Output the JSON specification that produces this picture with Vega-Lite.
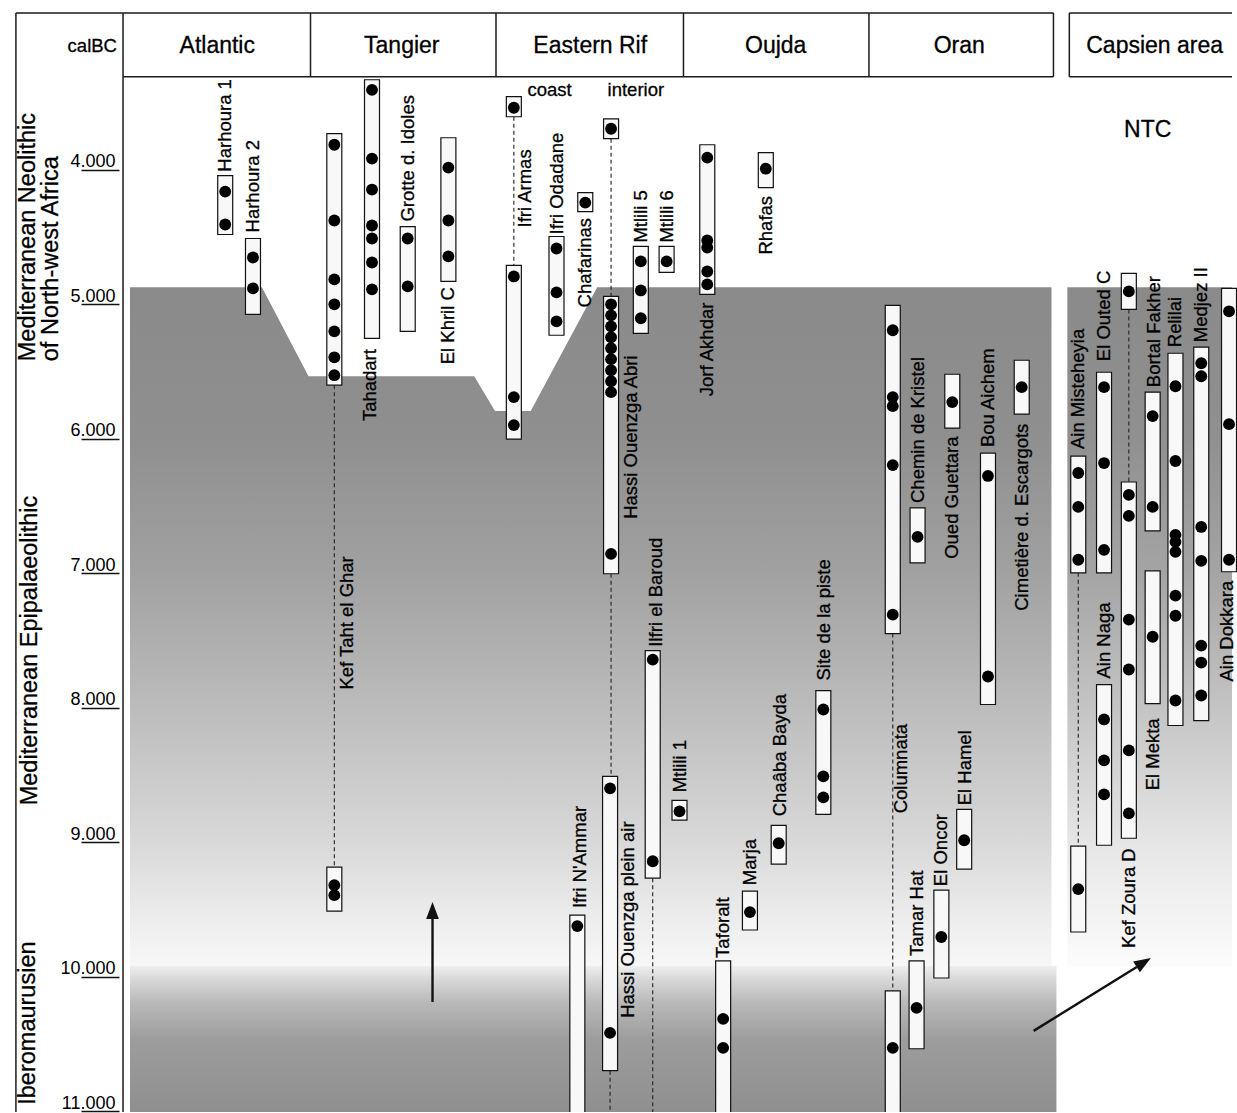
{
"$schema": "https://vega.github.io/schema/vega-lite/v6.json",
"width": 1237, "height": 1113,
"autosize": {"type": "fit", "contains": "padding"},
"padding": 0,
"background": "#ffffff",
"config": {"view": {"stroke": null}, "text": {"font": "Liberation Sans", "color": "#111111"}},
"datasets": {
"bgUpper": [
{"pos":126,"calBC":4875,"calBC2":9920},{"pos":259,"calBC":4875,"calBC2":9920},{"pos":306,"calBC":5536,"calBC2":9920},{"pos":473,"calBC":5536,"calBC2":9920},{"pos":494,"calBC":5795,"calBC2":9920},{"pos":530,"calBC":5795,"calBC2":9920},{"pos":597,"calBC":4875,"calBC2":9920},{"pos":1055,"calBC":4875,"calBC2":9920}],
"bgCaps": [{"pos":1071,"calBC":4875,"calBC2":9920},{"pos":1237,"calBC":4875,"calBC2":9920}],
"bgLower": [{"pos":126,"calBC":9920,"calBC2":11005},{"pos":1060,"calBC":9920,"calBC2":11005}],
"frame": [
{"pos":11,"pos2":1057,"calBC":2835,"calBC2":2835},
{"pos":1073,"pos2":1237,"calBC":2835,"calBC2":2835},
{"pos":119,"pos2":1057,"calBC":3310,"calBC2":3310},
{"pos":1073,"pos2":1237,"calBC":3310,"calBC2":3310},
{"pos":11,"pos2":11,"calBC":2835,"calBC2":11005},
{"pos":119,"pos2":119,"calBC":2835,"calBC2":11005},
{"pos":308,"pos2":308,"calBC":2835,"calBC2":3310},
{"pos":495,"pos2":495,"calBC":2835,"calBC2":3310},
{"pos":684,"pos2":684,"calBC":2835,"calBC2":3310},
{"pos":871,"pos2":871,"calBC":2835,"calBC2":3310},
{"pos":1057,"pos2":1057,"calBC":2835,"calBC2":3310},
{"pos":1073,"pos2":1073,"calBC":2835,"calBC2":3310}],
"dashes": [
{"pos":332,"calBC":5602,"calBC2":9185},
{"pos":513,"calBC":3607,"calBC2":4712},
{"pos":611,"calBC":3770,"calBC2":4942},
{"pos":611,"calBC":7004,"calBC2":8510},
{"pos":610,"calBC":10698,"calBC2":11100},
{"pos":653,"calBC":9267,"calBC2":11100},
{"pos":895,"calBC":7449,"calBC2":10105},
{"pos":1082,"calBC":6997,"calBC2":9029},
{"pos":1133,"calBC":5039,"calBC2":6322}],
"boxes": [
{"site":"Harhoura 1","pos":222,"calBC":4045,"calBC2":4482},
{"site":"Harhoura 2","pos":250,"calBC":4512,"calBC2":5076},
{"site":"Kef Taht el Ghar","pos":332,"calBC":3733,"calBC2":5602},
{"site":"Kef Taht el Ghar","pos":332,"calBC":9185,"calBC2":9512},
{"site":"Tahadart","pos":370,"calBC":3332,"calBC2":5254},
{"site":"Grotte d. Idoles","pos":406,"calBC":4423,"calBC2":5202},
{"site":"El Khril C","pos":447,"calBC":3763,"calBC2":4831},
{"site":"Ifri Armas","pos":513,"calBC":3458,"calBC2":3607},
{"site":"Ifri Armas","pos":513,"calBC":4712,"calBC2":6003},
{"site":"Ifri Odadane","pos":556,"calBC":4497,"calBC2":5231},
{"site":"Chafarinas","pos":585,"calBC":4171,"calBC2":4312},
{"site":"Hassi Ouenzga Abri","pos":611,"calBC":3622,"calBC2":3770},
{"site":"Hassi Ouenzga Abri","pos":611,"calBC":4942,"calBC2":7004},
{"site":"Hassi Ouenzga plein air","pos":610,"calBC":8510,"calBC2":10698},
{"site":"Ifri N'Ammar","pos":577,"calBC":9541,"calBC2":11100},
{"site":"Ilfri el Baroud","pos":653,"calBC":7575,"calBC2":9267},
{"site":"Mtlili 5","pos":641,"calBC":4571,"calBC2":5217},
{"site":"Mtlili 6","pos":667,"calBC":4571,"calBC2":4764},
{"site":"Mtlili 1","pos":680,"calBC":8688,"calBC2":8836},
{"site":"Jorf Akhdar","pos":708,"calBC":3815,"calBC2":4927},
{"site":"Rhafas","pos":767,"calBC":3874,"calBC2":4134},
{"site":"Columnata","pos":895,"calBC":5009,"calBC2":7449},
{"site":"Columnata","pos":895,"calBC":10105,"calBC2":11100},
{"site":"Chemin de Kristel","pos":920,"calBC":6515,"calBC2":6923},
{"site":"Oued Guettara","pos":955,"calBC":5521,"calBC2":5921},
{"site":"Bou Aichem","pos":991,"calBC":6107,"calBC2":7976},
{"site":"Cimetière d. Escargots","pos":1025,"calBC":5417,"calBC2":5817},
{"site":"Chaâba Bayda","pos":780,"calBC":8874,"calBC2":9163},
{"site":"Site de la piste","pos":825,"calBC":7872,"calBC2":8792},
{"site":"Marja","pos":751,"calBC":9363,"calBC2":9652},
{"site":"Taforalt","pos":724,"calBC":9882,"calBC2":11100},
{"site":"Tamar Hat","pos":919,"calBC":9882,"calBC2":10535},
{"site":"El Oncor","pos":944,"calBC":9356,"calBC2":10009},
{"site":"El Hamel","pos":967,"calBC":8755,"calBC2":9200},
{"site":"Ain Misteheyia","pos":1082,"calBC":6129,"calBC2":6997},
{"site":"Ain Misteheyia","pos":1082,"calBC":9029,"calBC2":9667},
{"site":"El Outed C","pos":1108,"calBC":5506,"calBC2":6997},
{"site":"Kef Zoura D","pos":1133,"calBC":4771,"calBC2":5039},
{"site":"Kef Zoura D","pos":1133,"calBC":6322,"calBC2":8970},
{"site":"Bortal Fakher","pos":1157,"calBC":5654,"calBC2":6685},
{"site":"El Mekta","pos":1157,"calBC":6982,"calBC2":7969},
{"site":"Relilai","pos":1180,"calBC":5365,"calBC2":8132},
{"site":"Medjez II","pos":1206,"calBC":5320,"calBC2":8095},
{"site":"Ain Dokkara","pos":1234,"calBC":4883,"calBC2":6989},
{"site":"Ain Naga","pos":1108,"calBC":7828,"calBC2":9022}],
"dots": [
{"pos":222,"calBC":4163},{"pos":222,"calBC":4408},
{"pos":250,"calBC":4653},{"pos":250,"calBC":4883},
{"pos":332,"calBC":3815},{"pos":332,"calBC":4378},{"pos":332,"calBC":4816},{"pos":332,"calBC":5001},{"pos":332,"calBC":5202},{"pos":332,"calBC":5395},{"pos":332,"calBC":5528},{"pos":332,"calBC":9319},{"pos":332,"calBC":9393},
{"pos":370,"calBC":3407},{"pos":370,"calBC":3918},{"pos":370,"calBC":4148},{"pos":370,"calBC":4415},{"pos":370,"calBC":4512},{"pos":370,"calBC":4690},{"pos":370,"calBC":4890},
{"pos":406,"calBC":4512},{"pos":406,"calBC":4868},
{"pos":447,"calBC":3985},{"pos":447,"calBC":4378},{"pos":447,"calBC":4645},
{"pos":513,"calBC":3540},{"pos":513,"calBC":4794},{"pos":513,"calBC":5691},{"pos":513,"calBC":5899},
{"pos":556,"calBC":4586},{"pos":556,"calBC":4912},{"pos":556,"calBC":5128},
{"pos":585,"calBC":4245},
{"pos":611,"calBC":3696},{"pos":611,"calBC":5001},{"pos":611,"calBC":5083},{"pos":611,"calBC":5165},{"pos":611,"calBC":5246},{"pos":611,"calBC":5328},{"pos":611,"calBC":5409},{"pos":611,"calBC":5491},{"pos":611,"calBC":5573},{"pos":611,"calBC":5654},{"pos":611,"calBC":6856},
{"pos":610,"calBC":8599},{"pos":610,"calBC":10417},
{"pos":577,"calBC":9623},
{"pos":653,"calBC":7642},{"pos":653,"calBC":9141},
{"pos":641,"calBC":4682},{"pos":641,"calBC":4898},{"pos":641,"calBC":5105},
{"pos":667,"calBC":4682},
{"pos":680,"calBC":8770},
{"pos":708,"calBC":3911},{"pos":708,"calBC":4527},{"pos":708,"calBC":4579},{"pos":708,"calBC":4757},{"pos":708,"calBC":4853},
{"pos":767,"calBC":3993},
{"pos":895,"calBC":5194},{"pos":895,"calBC":5691},{"pos":895,"calBC":5758},{"pos":895,"calBC":6196},{"pos":895,"calBC":7308},{"pos":895,"calBC":10528},
{"pos":920,"calBC":6730},
{"pos":955,"calBC":5728},
{"pos":991,"calBC":6277},{"pos":991,"calBC":7768},
{"pos":1025,"calBC":5617},
{"pos":780,"calBC":9007},
{"pos":825,"calBC":8013},{"pos":825,"calBC":8510},{"pos":825,"calBC":8666},
{"pos":751,"calBC":9519},
{"pos":724,"calBC":10313},{"pos":724,"calBC":10528},
{"pos":919,"calBC":10231},
{"pos":944,"calBC":9704},
{"pos":967,"calBC":8985},
{"pos":1082,"calBC":6255},{"pos":1082,"calBC":6507},{"pos":1082,"calBC":6900},{"pos":1082,"calBC":9348},
{"pos":1108,"calBC":5617},{"pos":1108,"calBC":6181},{"pos":1108,"calBC":6826},
{"pos":1133,"calBC":4905},{"pos":1133,"calBC":6418},{"pos":1133,"calBC":6574},{"pos":1133,"calBC":7345},{"pos":1133,"calBC":7716},{"pos":1133,"calBC":8317},{"pos":1133,"calBC":8785},
{"pos":1157,"calBC":5832},{"pos":1157,"calBC":6507},
{"pos":1157,"calBC":7472},
{"pos":1180,"calBC":5610},{"pos":1180,"calBC":6166},{"pos":1180,"calBC":6715},{"pos":1180,"calBC":6767},{"pos":1180,"calBC":6841},{"pos":1180,"calBC":7167},{"pos":1180,"calBC":7316},{"pos":1180,"calBC":7946},
{"pos":1206,"calBC":5439},{"pos":1206,"calBC":5536},{"pos":1206,"calBC":6656},{"pos":1206,"calBC":6908},{"pos":1206,"calBC":7538},{"pos":1206,"calBC":7664},{"pos":1206,"calBC":7909},
{"pos":1234,"calBC":5053},{"pos":1234,"calBC":5892},{"pos":1234,"calBC":6900},
{"pos":1108,"calBC":8087},{"pos":1108,"calBC":8391},{"pos":1108,"calBC":8644}],
"labels": [
{"label":"Harhoura 1","pos":222,"calBC":4015},
{"label":"Harhoura 2","pos":250,"calBC":4467},
{"label":"Kef Taht el Ghar","pos":345,"calBC":7865},
{"label":"Tahadart","pos":368,"calBC":5869},
{"label":"Grotte d. Idoles","pos":406,"calBC":4386},
{"label":"El Khril C","pos":447,"calBC":5447},
{"label":"Ifri Armas","pos":524,"calBC":4430},
{"label":"Ifri Odadane","pos":556,"calBC":4482},
{"label":"Chafarinas","pos":585,"calBC":5024},
{"label":"Hassi Ouenzga Abri","pos":631,"calBC":6596},
{"label":"Hassi Ouenzga plein air","pos":628,"calBC":10305},
{"label":"Ifri N'Ammar","pos":580,"calBC":9489},
{"label":"Ilfri el Baroud","pos":656,"calBC":7546},
{"label":"Mtlili 5","pos":641,"calBC":4542},
{"label":"Mtlili 6","pos":667,"calBC":4542},
{"label":"Mtlili 1","pos":680,"calBC":8629},
{"label":"Jorf Akhdar","pos":708,"calBC":5684},
{"label":"Rhafas","pos":767,"calBC":4631},
{"label":"Columnata","pos":903,"calBC":8785},
{"label":"Chemin de Kristel","pos":920,"calBC":6478},
{"label":"Oued Guettara","pos":955,"calBC":6893},
{"label":"Bou Aichem","pos":991,"calBC":6062},
{"label":"Cimetière d. Escargots","pos":1025,"calBC":7279},
{"label":"Chaâba Bayda","pos":781,"calBC":8807},
{"label":"Site de la piste","pos":826,"calBC":7798},
{"label":"Marja","pos":751,"calBC":9319},
{"label":"Taforalt","pos":724,"calBC":9860},
{"label":"Tamar Hat","pos":919,"calBC":9845},
{"label":"El Oncor","pos":944,"calBC":9326},
{"label":"El Hamel","pos":968,"calBC":8725},
{"label":"Ain Misteheyia","pos":1082,"calBC":6077},
{"label":"El Outed C","pos":1108,"calBC":5424},
{"label":"Kef Zoura D","pos":1133,"calBC":9786},
{"label":"Bortal Fakher","pos":1158,"calBC":5617},
{"label":"El Mekta","pos":1157,"calBC":8614},
{"label":"Relilai","pos":1180,"calBC":5320},
{"label":"Medjez II","pos":1206,"calBC":5283},
{"label":"Ain Dokkara","pos":1232,"calBC":7805},
{"label":"Ain Naga","pos":1108,"calBC":7783}],
"periods": [
{"label":"Mediterranean Neolithic","pos":23,"calBC":5424},
{"label":"of North-west Africa","pos":46,"calBC":5424},
{"label":"Mediterranean Epipalaeolithic","pos":25,"calBC":8725},
{"label":"Iberomaurusien","pos":23,"calBC":10951}],
"headers": [
{"label":"Atlantic","pos":214,"calBC":3080},
{"label":"Tangier","pos":400,"calBC":3080},
{"label":"Eastern Rif","pos":590,"calBC":3080},
{"label":"Oujda","pos":777,"calBC":3080},
{"label":"Oran","pos":962,"calBC":3080},
{"label":"Capsien area","pos":1159,"calBC":3080},
{"label":"NTC","pos":1152,"calBC":3703}],
"small": [
{"label":"calBC","pos":88,"calBC":3080},
{"label":"coast","pos":549,"calBC":3407},
{"label":"interior","pos":636,"calBC":3407}],
"shafts": [
{"pos":431,"pos2":431,"calBC":10187,"calBC2":9560},
{"pos":1037,"pos2":1141,"calBC":10402,"calBC2":9927}],
"head1": [{"pos":431,"calBC":9508}],
"head2": [{"pos":1148,"calBC":9893}]
},
"encoding": {
"x": {"field": "pos", "type": "quantitative", "scale": {"domain": [0, 1237], "nice": false, "zero": false}, "axis": null},
"y": {"field": "calBC", "type": "quantitative", "scale": {"domain": [2739, 11005], "reverse": true, "nice": false, "zero": false},
 "axis": {"orient": "left", "offset": -119, "title": null, "values": [4000,5000,6000,7000,8000,9000,10000,11000], "domain": false, "grid": false, "ticks": true, "tickSize": 38, "tickColor": "#111111", "tickWidth": 1.5, "labelPadding": -34, "labelAlign": "right", "labelBaseline": "alphabetic", "labelOffset": -3, "labelFont": "Liberation Sans", "labelFontSize": 18, "labelColor": "#000000", "labelBound": false, "labelFlush": false, "labelOverlap": false, "labelExpr": "replace(format(datum.value, ','), ',', '.')"}}
},
"layer": [
{"data": {"name": "bgUpper"}, "mark": {"type": "area", "interpolate": "linear", "fill": {"gradient": "linear", "x1": 0, "y1": 0, "x2": 0, "y2": 1, "stops": [{"offset": 0, "color": "#8a8a8a"}, {"offset": 0.22, "color": "#8f8f8f"}, {"offset": 0.42, "color": "#a1a1a1"}, {"offset": 0.62, "color": "#bcbcbc"}, {"offset": 0.82, "color": "#d9d9d9"}, {"offset": 0.945, "color": "#efefef"}, {"offset": 1, "color": "#f7f7f7"}]}}, "encoding": {"y2": {"field": "calBC2"}}},
{"data": {"name": "bgCaps"}, "mark": {"type": "area", "fill": {"gradient": "linear", "x1": 0, "y1": 0, "x2": 0, "y2": 1, "stops": [{"offset": 0, "color": "#8a8a8a"}, {"offset": 0.22, "color": "#909090"}, {"offset": 0.42, "color": "#a4a4a4"}, {"offset": 0.62, "color": "#c4c4c4"}, {"offset": 0.82, "color": "#e6e6e6"}, {"offset": 1, "color": "#fcfcfc"}]}}, "encoding": {"y2": {"field": "calBC2"}}},
{"data": {"name": "bgLower"}, "mark": {"type": "area", "fill": {"gradient": "linear", "x1": 0, "y1": 0, "x2": 0, "y2": 1, "stops": [{"offset": 0, "color": "#eeeeee"}, {"offset": 0.1, "color": "#d6d6d6"}, {"offset": 0.25, "color": "#b9b9b9"}, {"offset": 0.5, "color": "#9d9d9d"}, {"offset": 1, "color": "#8f8f8f"}]}}, "encoding": {"y2": {"field": "calBC2"}}},
{"data": {"name": "frame"}, "mark": {"type": "rule", "color": "#1a1a1a", "strokeWidth": 1.5}, "encoding": {"x2": {"field": "pos2"}, "y2": {"field": "calBC2"}}},
{"data": {"name": "dashes"}, "mark": {"type": "rule", "color": "#222222", "strokeWidth": 1.1, "strokeDash": [4, 3], "clip": true}, "encoding": {"y2": {"field": "calBC2"}}},
{"data": {"name": "boxes"}, "mark": {"type": "bar", "width": 15, "fill": "#f8f8f8", "stroke": "#111111", "strokeWidth": 1.2, "clip": true}, "encoding": {"y2": {"field": "calBC2"}}},
{"data": {"name": "dots"}, "mark": {"type": "point", "shape": "circle", "filled": true, "size": 140, "color": "#000000", "opacity": 1}},
{"data": {"name": "labels"}, "mark": {"type": "text", "angle": 270, "align": "left", "baseline": "middle", "fontSize": 18.5, "font": "Liberation Sans", "color": "#000000", "stroke": "#000000", "strokeWidth": 0.3}, "encoding": {"text": {"field": "label"}}},
{"data": {"name": "periods"}, "mark": {"type": "text", "angle": 270, "align": "left", "baseline": "middle", "fontSize": 23.5, "font": "Liberation Sans", "color": "#000000", "stroke": "#000000", "strokeWidth": 0.3}, "encoding": {"text": {"field": "label"}}},
{"data": {"name": "headers"}, "mark": {"type": "text", "align": "center", "baseline": "middle", "fontSize": 23, "font": "Liberation Sans", "color": "#000000", "stroke": "#000000", "strokeWidth": 0.3}, "encoding": {"text": {"field": "label"}}},
{"data": {"name": "small"}, "mark": {"type": "text", "align": "center", "baseline": "middle", "fontSize": 18.5, "font": "Liberation Sans", "color": "#000000", "stroke": "#000000", "strokeWidth": 0.3}, "encoding": {"text": {"field": "label"}}},
{"data": {"name": "shafts"}, "mark": {"type": "rule", "color": "#111111", "strokeWidth": 2.4}, "encoding": {"x2": {"field": "pos2"}, "y2": {"field": "calBC2"}}},
{"data": {"name": "head1"}, "mark": {"type": "point", "shape": "M0,-1L0.75,1L-0.75,1Z", "filled": true, "size": 289, "color": "#111111", "opacity": 1, "angle": 0}},
{"data": {"name": "head2"}, "mark": {"type": "point", "shape": "M0,-1L0.75,1L-0.75,1Z", "filled": true, "size": 289, "color": "#111111", "opacity": 1, "angle": 58}}
]
}
